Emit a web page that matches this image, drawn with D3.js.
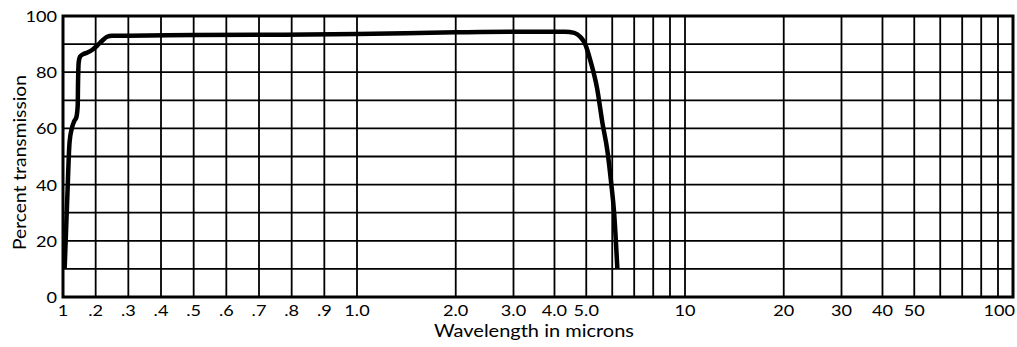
<!DOCTYPE html>
<html>
<head>
<meta charset="utf-8">
<script src="https://cdn.jsdelivr.net/npm/d3@7"></script>
<style>
  body { margin: 0; background: #fff; }
  text { font-family: Lato, "Open Sans", sans-serif; fill: #000; }
</style>
</head>
<body>
<div id="chart"></div>
<script>
// curve (wavelength in microns, percent transmission)
var wavelength   = [0.105, 0.113, 0.12, 0.127, 0.134, 0.141, 0.145, 0.146, 0.148, 0.152, 0.16, 0.175, 0.19, 0.205, 0.22, 0.235, 0.25, 0.3, 0.5, 0.7, 1.0, 2.0, 3.0, 4.3, 4.6, 4.8, 4.95, 5.15, 5.4, 5.6, 5.8, 5.95, 6.08, 6.22];
var transmission = [10, 35, 55, 60, 62.5, 64, 68, 76, 83.5, 85.5, 86.3, 87, 88, 89.5, 91.2, 92.6, 93, 93, 93.2, 93.3, 93.6, 94.2, 94.4, 94.4, 94, 92.5, 90.3, 84, 74, 62, 52, 41, 30, 10];

// grid and ticks
var yGrid = [0, 10, 20, 30, 40, 50, 60, 70, 80, 90, 100];
var yTicks = [0, 20, 40, 60, 80, 100];
var xGrid = [0.1, 0.2, 0.3, 0.4, 0.5, 0.6, 0.7, 0.8, 0.9, 1, 2, 3, 4, 5, 6, 7, 8, 9, 10, 20, 30, 40, 50, 60, 70, 80, 90, 100];
var xTicks = [0.1, 0.2, 0.3, 0.4, 0.5, 0.6, 0.7, 0.8, 0.9, 1, 2, 3, 4, 5, 10, 20, 30, 40, 50, 100];
var xTickLabels = ["1", ".2", ".3", ".4", ".5", ".6", ".7", ".8", ".9", "1.0", "2.0", "3.0", "4.0", "5.0", "10", "20", "30", "40", "50", "100"];

var margin = {top: 16, right: 4, bottom: 50, left: 63},
  width = 1017 - margin.left - margin.right,
  height = 347 - margin.top - margin.bottom;

var svg = d3.select("#chart")
.append("svg")
  .attr("width", width + margin.left + margin.right)
  .attr("height", height + margin.top + margin.bottom)
.append("g")
  .attr("transform", "translate(" + margin.left + "," + margin.top + ")");

// x axis is linear from .1 to 1, then logarithmic from 1 to 100
var xLin = d3.scaleLinear().domain([0.1, 1]).range([0, 294]);
var xLog = d3.scaleLog().domain([1, 100]).range([294, width]);
var x = function(v) { return v < 1 ? xLin(v) : xLog(v); };

var y = d3.scaleLinear().domain([0, 100]).range([height, 0]);

// grid
svg.selectAll("line.h")
  .data(yGrid)
  .enter()
  .append("line")
    .attr("x1", 0)
    .attr("x2", width)
    .attr("y1", function(d) { return y(d); })
    .attr("y2", function(d) { return y(d); })
    .style("stroke", "#000")
    .style("stroke-width", 1.8);

svg.selectAll("line.v")
  .data(xGrid)
  .enter()
  .append("line")
    .attr("x1", function(d) { return x(d); })
    .attr("x2", function(d) { return x(d); })
    .attr("y1", 0)
    .attr("y2", height)
    .style("stroke", "#000")
    .style("stroke-width", 1.8);

// frame
svg.append("rect")
  .attr("width", width)
  .attr("height", height)
  .style("fill", "none")
  .style("stroke", "#000")
  .style("stroke-width", 3);

// y tick labels (the print is stretched sideways, hence the scale)
svg.selectAll("g.ylab")
  .data(yTicks)
  .enter()
  .append("g")
    .attr("transform", function(d) { return "translate(-6," + (y(d) + 1) + ")"; })
  .append("text")
    .attr("transform", "scale(1.25,1)")
    .attr("text-anchor", "end")
    .attr("dy", "0.35em")
    .attr("font-size", 14.5)
    .text(function(d) { return d; });

// x tick labels
svg.selectAll("g.xlab")
  .data(xTicks)
  .enter()
  .append("g")
    .attr("transform", function(d, i) {
      var px = i == xTicks.length - 1 ? x(d) + 2 : x(d);
      return "translate(" + px + "," + (height + 19) + ")";
    })
  .append("text")
    .attr("transform", "scale(1.25,1)")
    .attr("text-anchor", function(d, i) { return i == xTicks.length - 1 ? "end" : "middle"; })
    .attr("font-size", 14.5)
    .text(function(d, i) { return xTickLabels[i]; });

// axis titles
svg.append("text")
  .attr("x", 534 - margin.left - 100)
  .attr("y", height + 40)
  .attr("font-size", 17)
  .attr("textLength", 200)
  .attr("lengthAdjust", "spacingAndGlyphs")
  .text("Wavelength in microns");

svg.append("text")
  .attr("transform", "translate(" + (26 - margin.left) + "," + (250 - margin.top) + ") rotate(-90)")
  .attr("font-size", 17)
  .attr("textLength", 175)
  .attr("lengthAdjust", "spacingAndGlyphs")
  .text("Percent transmission");

// transmission curve
var line = d3.line()
  .x(function(d) { return x(d[0]); })
  .y(function(d) { return y(d[1]); })
  .curve(d3.curveMonotoneX);

svg.append("path")
  .datum(d3.zip(wavelength, transmission))
  .attr("d", line)
  .style("fill", "none")
  .style("stroke", "#000")
  .style("stroke-width", 4.5)
  .style("stroke-linejoin", "round");
</script>
</body>
</html>
